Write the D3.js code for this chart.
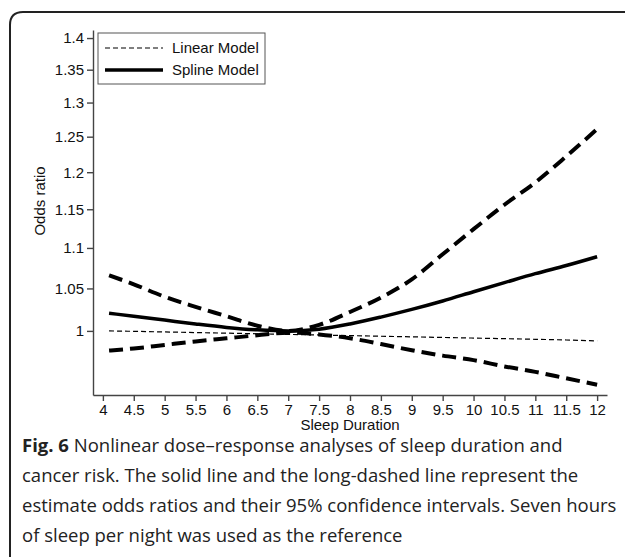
<!DOCTYPE html>
<html>
<head>
<meta charset="utf-8">
<script src="https://cdn.jsdelivr.net/npm/d3@7"></script>
<style>
  html, body { margin: 0; padding: 0; background: #fff; }
  svg { display: block; }
  .axis text { font-family: "Liberation Sans", Arial, sans-serif; font-size: 15px; fill: #111; }
  .axis path, .axis line { stroke: #444; stroke-width: 1.4; }
</style>
</head>
<body>
<div id="chart"></div>
<script>
// Sleep duration (hours) at which the curves were evaluated
const sleepHours = [4.1, 4.5, 5, 5.5, 6, 6.5, 7, 7.5, 8, 8.5, 9, 9.5, 10, 10.5, 11, 11.5, 12];

// Odds ratios
const linearOR = [1.000, 0.9995, 0.9988, 0.9981, 0.9974, 0.9967, 0.9960, 0.9953, 0.9946, 0.9939, 0.9932, 0.9925, 0.9918, 0.9911, 0.9904, 0.9896, 0.9886];
const splineOR = [1.0205, 1.017, 1.0125, 1.008, 1.004, 1.0012, 1.000, 1.002, 1.008, 1.016, 1.025, 1.035, 1.046, 1.057, 1.068, 1.078, 1.089];
const upperCI = [1.066, 1.055, 1.040, 1.028, 1.017, 1.006, 1.000, 1.007, 1.022, 1.039, 1.061, 1.092, 1.124, 1.156, 1.186, 1.222, 1.261];
const lowerCI = [0.9776, 0.980, 0.984, 0.988, 0.9915, 0.995, 0.998, 0.996, 0.9916, 0.985, 0.978, 0.972, 0.967, 0.960, 0.954, 0.947, 0.940];

// Tick labels
const xTicks = [4, 4.5, 5, 5.5, 6, 6.5, 7, 7.5, 8, 8.5, 9, 9.5, 10, 10.5, 11, 11.5, 12];
const yTicks = [1, 1.05, 1.1, 1.15, 1.2, 1.25, 1.3, 1.35, 1.4];

const legendItems = ['Linear Model', 'Spline Model'];

const captionLines = [
    ['Fig. 6', ' Nonlinear dose\u2013response analyses of sleep duration and'],
    ['', 'cancer risk. The solid line and the long-dashed line represent the'],
    ['', 'estimate odds ratios and their 95% confidence intervals. Seven hours'],
    ['', 'of sleep per night was used as the reference']
];

let width = 625,
    height = 557,
    plot = {left: 93, top: 30, right: 607, bottom: 395};

let svg = d3.select('#chart')
    .append('svg')
    .attr('width', width)
    .attr('height', height);

// Frame of the figure panel (rounded top-left corner)
svg.append('path')
    .attr('d', 'M10,' + height + ' L10,25 Q10,12 23,12 L' + width + ',12')
    .attr('fill', 'none')
    .attr('stroke', '#222')
    .attr('stroke-width', 2);

let x = d3.scaleLinear().domain([3.84, 12.16]).range([plot.left, plot.right]);
let y = d3.scaleLog().domain([0.929, 1.413]).range([plot.bottom, plot.top]);

// Axes
svg.append('g')
    .attr('class', 'axis')
    .attr('transform', 'translate(0,' + plot.bottom + ')')
    .call(d3.axisBottom(x).tickValues(xTicks).tickSize(6).tickSizeOuter(0).tickPadding(3).tickFormat(d3.format('')));

svg.append('g')
    .attr('class', 'axis')
    .attr('transform', 'translate(' + plot.left + ',0)')
    .call(d3.axisLeft(y).tickValues(yTicks).tickSize(6).tickSizeOuter(0).tickPadding(3).tickFormat(d3.format('')));

svg.append('text')
    .attr('x', (plot.left + plot.right) / 2)
    .attr('y', 430)
    .attr('text-anchor', 'middle')
    .style('font-family', '"Liberation Sans", Arial, sans-serif')
    .style('font-size', '15px')
    .attr('fill', '#111')
    .text('Sleep Duration');

svg.append('text')
    .attr('transform', 'translate(45,201) rotate(-90)')
    .attr('text-anchor', 'middle')
    .style('font-family', '"Liberation Sans", Arial, sans-serif')
    .style('font-size', '15px')
    .attr('fill', '#111')
    .text('Odds ratio');

// Curves
function drawCurve(values, strokeWidth, dash) {
    let line = d3.line()
        .x(function(d, i) { return x(sleepHours[i]); })
        .y(function(d) { return y(d); })
        .curve(d3.curveMonotoneX);

    svg.append('path')
        .datum(values)
        .attr('d', line)
        .attr('fill', 'none')
        .attr('stroke', '#000')
        .attr('stroke-width', strokeWidth)
        .attr('stroke-dasharray', dash);
}

drawCurve(linearOR, 1.2, '5,3');
drawCurve(upperCI, 4, '14,7');
drawCurve(lowerCI, 4, '14,7');
drawCurve(splineOR, 3.5, null);

// Legend
let legend = svg.append('g').attr('transform', 'translate(98,33)');
legend.append('rect')
    .attr('width', 167)
    .attr('height', 51)
    .attr('fill', '#fff')
    .attr('stroke', '#555')
    .attr('stroke-width', 1);

legendItems.forEach(function(label, i) {
    let cy = 15 + i * 22;
    legend.append('line')
        .attr('x1', 7).attr('x2', 65)
        .attr('y1', cy).attr('y2', cy)
        .attr('stroke', '#000')
        .attr('stroke-width', i === 0 ? 1.2 : 3.5)
        .attr('stroke-dasharray', i === 0 ? '5,3' : null);
    legend.append('text')
        .attr('x', 74)
        .attr('y', cy + 5)
        .style('font-family', '"Liberation Sans", Arial, sans-serif')
        .style('font-size', '15px')
        .attr('fill', '#111')
        .text(label);
});

// Caption
let caption = svg.append('text')
    .style('font-family', '"Open Sans", "Noto Sans", sans-serif')
    .style('font-size', '18.5px')
    .attr('fill', '#222');

captionLines.forEach(function(parts, i) {
    let baseY = 452 + i * 30;
    if (parts[0]) {
        caption.append('tspan')
            .attr('x', 22).attr('y', baseY)
            .style('font-weight', 'bold')
            .text(parts[0]);
        caption.append('tspan').text(parts[1]);
    } else {
        caption.append('tspan')
            .attr('x', 22).attr('y', baseY)
            .text(parts[1]);
    }
});
</script>
</body>
</html>
